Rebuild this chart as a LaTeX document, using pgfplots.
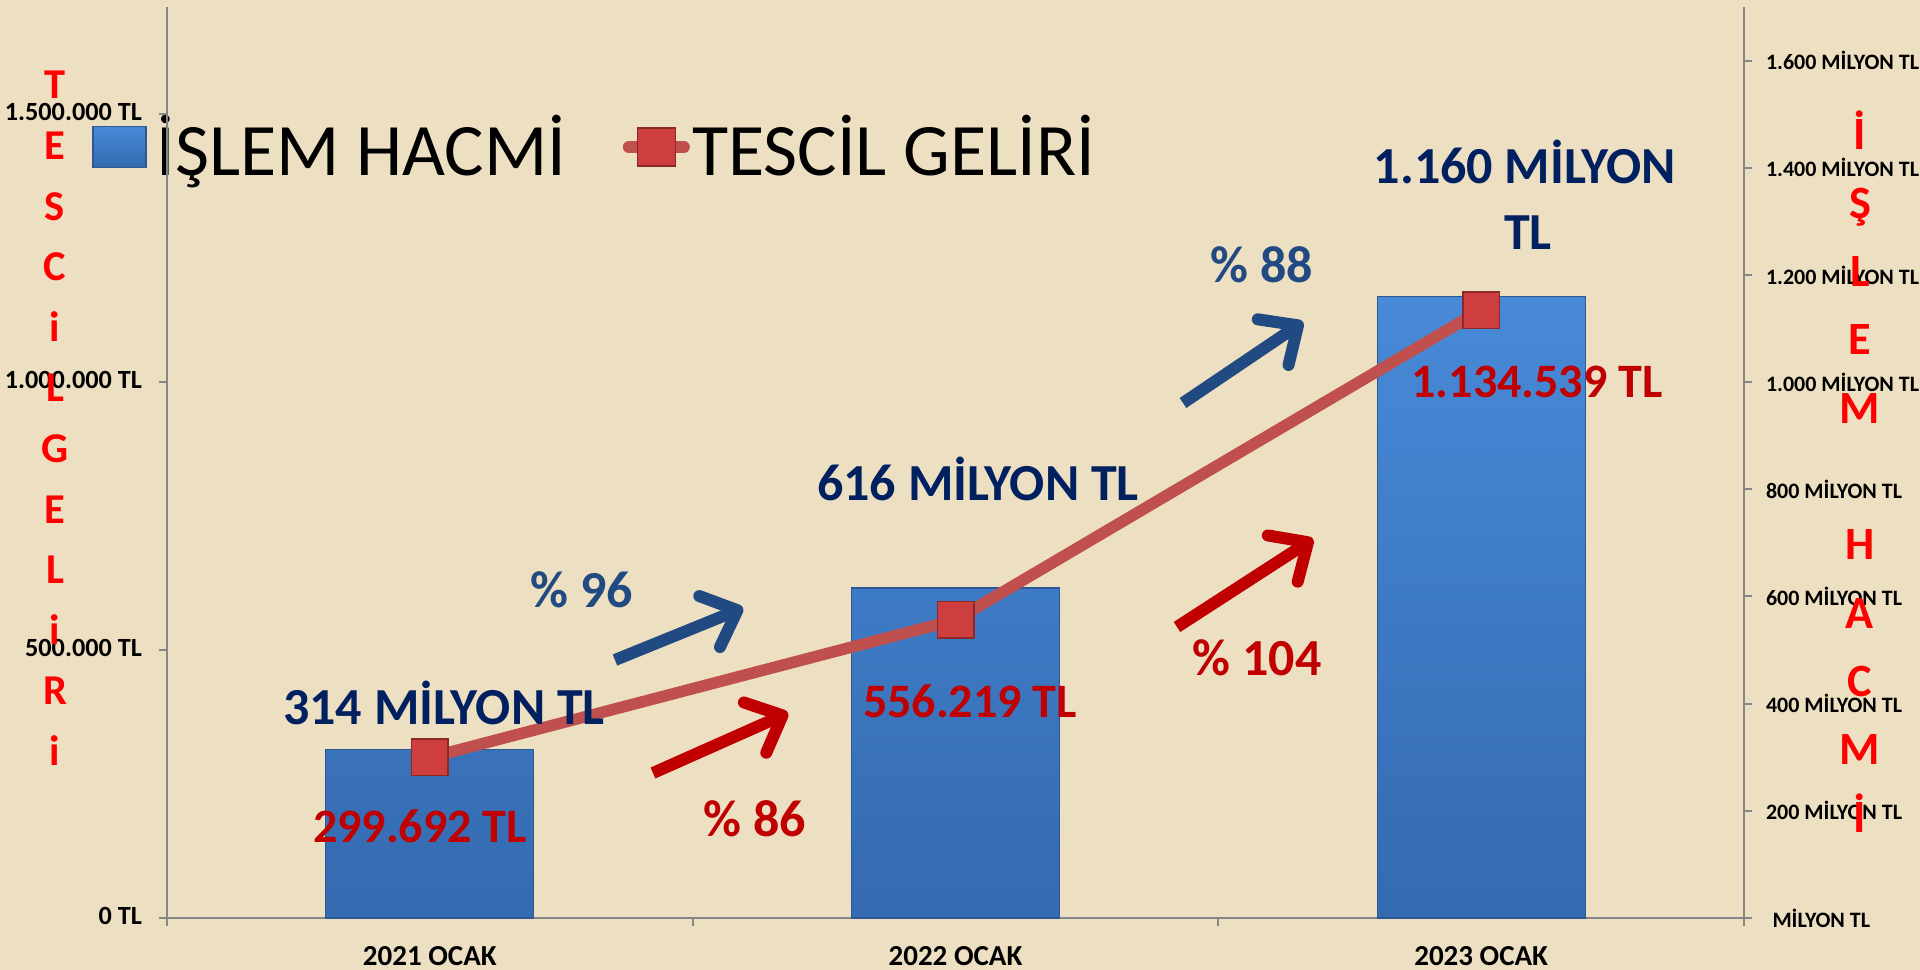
\documentclass[border=0pt]{standalone}
\usepackage{fontspec}
\setmainfont{Carlito}
\usepackage{pgfplots}
\pgfplotsset{compat=1.18}
\usetikzlibrary{arrows.meta}

\definecolor{bg}{RGB}{237,223,193}
\definecolor{barTop}{RGB}{72,138,216}
\definecolor{barBot}{RGB}{52,106,176}
\definecolor{barEdge}{RGB}{44,88,148}
\definecolor{lineRed}{RGB}{192,80,77}
\definecolor{markRed}{RGB}{206,62,62}
\definecolor{markEdge}{RGB}{140,40,40}
\definecolor{navy}{RGB}{0,32,96}
\definecolor{darkred}{RGB}{192,0,0}
\definecolor{steel}{RGB}{34,74,130}
\definecolor{axgray}{RGB}{134,134,134}
\definecolor{titlered}{RGB}{255,0,0}

\begin{document}
\begin{tikzpicture}
\fill[bg] (0,0) rectangle (768pt,388pt);

% ---- bars: ISLEM HACMI (right axis, million TL)
\begin{axis}[
  at={(66.8pt,20.8pt)}, anchor=south west,
  scale only axis, width=630.8pt, height=364.4pt,
  xmin=-0.5, xmax=2.5, ymin=0, ymax=1700,
  axis y line*=right, axis x line*=bottom,
  axis line style={axgray, line width=0.8pt},
  tick style={axgray, line width=0.8pt},
  tick align=outside, major tick length=3pt,
  ybar, bar width=83.2pt, bar shift=0pt,
  xtick={-0.5,0.5,1.5,2.5},
  x tick label as interval,
  xticklabels={2021 OCAK, 2022 OCAK, 2023 OCAK},
  xticklabel style={font=\bfseries\fontsize{11.6}{13}\selectfont, inner sep=0pt, anchor=north, yshift=-8.3pt},
  ytick={0,200,400,600,800,1000,1200,1400,1600},
  yticklabels={\hspace{2.6pt}MİLYON TL, 200 MİLYON TL, 400 MİLYON TL, 600 MİLYON TL, 800 MİLYON TL, 1.000 MİLYON TL, 1.200 MİLYON TL, 1.400 MİLYON TL, 1.600 MİLYON TL},
  yticklabel style={font=\bfseries\fontsize{8.8}{10}\selectfont, inner sep=0pt, anchor=west, xshift=5.6pt},
  legend columns=2,
  legend style={at={(-0.04756,0.8463)}, anchor=west, draw=none, fill=none,
    inner sep=0pt, font=\fontsize{29.6}{35}\selectfont,
    nodes={inner sep=0pt},
    /tikz/column 1/.style={column sep=4pt},
    /tikz/column 2/.style={column sep=22.6pt},
    /tikz/column 3/.style={column sep=1pt}},
]
\addplot[draw=barEdge, line width=0.5pt, top color=barTop, bottom color=barBot,
  legend image code/.code={\fill[top color=barTop, bottom color=barBot, draw=barEdge, line width=0.5pt] (0pt,-8.2pt) rectangle (21.2pt,8.2pt);}]
  coordinates {(0,314) (1,616) (2,1160)};
\addlegendentry{İŞLEM HACMİ}
\addlegendimage{legend image code/.code={
  \draw[lineRed, line width=4.6pt, line cap=round] (1.5pt,0pt) -- (23.7pt,0pt);
  \fill[markRed, draw=markEdge, line width=0.5pt] (5pt,-7.6pt) rectangle (20.2pt,7.6pt);}}
\addlegendentry{TESCİL GELİRİ}
\end{axis}

% ---- line: TESCIL GELIRI (left axis, TL)
\begin{axis}[
  at={(66.8pt,20.8pt)}, anchor=south west,
  scale only axis, width=630.8pt, height=364.4pt,
  xmin=-0.5, xmax=2.5, ymin=0, ymax=1700000,
  axis y line*=left, axis x line=none,
  axis line style={axgray, line width=0.8pt},
  tick style={axgray, line width=0.8pt},
  tick align=outside, major tick length=3pt,
  scaled y ticks=false,
  ytick={0,500000,1000000,1500000},
  yticklabels={0 TL, 500.000 TL, 1.000.000 TL, 1.500.000 TL},
  yticklabel style={font=\bfseries\fontsize{10.5}{12}\selectfont, inner sep=0pt, anchor=east, xshift=-6.8pt, yshift=1pt},
  clip=false,
]
\addplot[lineRed, line width=4.6pt, mark=square*, mark size=7.3pt,
  mark options={fill=markRed, draw=markEdge, line width=0.6pt}]
  coordinates {(0,299692) (1,556219) (2,1134539)};
\end{axis}

% ---- annotations (pixel grid of the 1920x970 picture)
\begin{scope}[yshift=388pt, x=0.4pt, y=-0.4pt]
  \tikzset{blab/.style={anchor=base, navy, font=\bfseries\fontsize{20.8}{25}\selectfont, inner sep=0pt},
           rlab/.style={anchor=base, darkred, font=\bfseries\fontsize{19.2}{23}\selectfont, inner sep=0pt},
           plab/.style={anchor=base, font=\bfseries\fontsize{20.8}{25}\selectfont, inner sep=0pt},
           arr/.style={line width=4.8pt, -{Straight Barb[length=12pt, width=22pt, round]}}}
  \node[blab] at (444,725) {314 MİLYON TL};
  \node[blab] at (978,501) {616 MİLYON TL};
  \node[blab] at (1525,184) {1.160 MİLYON};
  \node[blab] at (1528,250) {TL};
  \node[rlab] at (420,843) {299.692 TL};
  \node[rlab] at (970,718) {556.219 TL};
  \node[rlab] at (1537,398) {1.134.539 TL};
  \node[plab, steel] at (582,608) {\% 96};
  \node[plab, darkred] at (755,837) {\% 86};
  \node[plab, darkred] at (1257,676) {\% 104};
  \node[plab, steel] at (1262,283) {\% 88};
  \draw[arr, steel] (615,660) -- (743,608);
  \draw[arr, darkred] (653,773) -- (788,713);
  \draw[arr, darkred] (1177,627) -- (1313,539);
  \draw[arr, steel] (1183,403) -- (1303,322);
  % vertical axis titles
  \foreach \c [count=\k from 0] in {T,E,S,C,i,L,G,E,L,i,R,i}
    \node[anchor=base, titlered, font=\bfseries\fontsize{17}{20}\selectfont, inner sep=0pt] at (55,{99+60.6*\k}) {\c};
  \foreach \c/\k in {İ/0,Ş/1,L/2,E/3,M/4,H/6,A/7,C/8,M/9,İ/10}
    \node[anchor=base, titlered, font=\bfseries\fontsize{18.5}{22}\selectfont, inner sep=0pt] at (1860,{150+68.3*\k}) {\c};
\end{scope}

\pgfresetboundingbox
\useasboundingbox (0,0) rectangle (768pt,388pt);
\end{tikzpicture}
\end{document}
